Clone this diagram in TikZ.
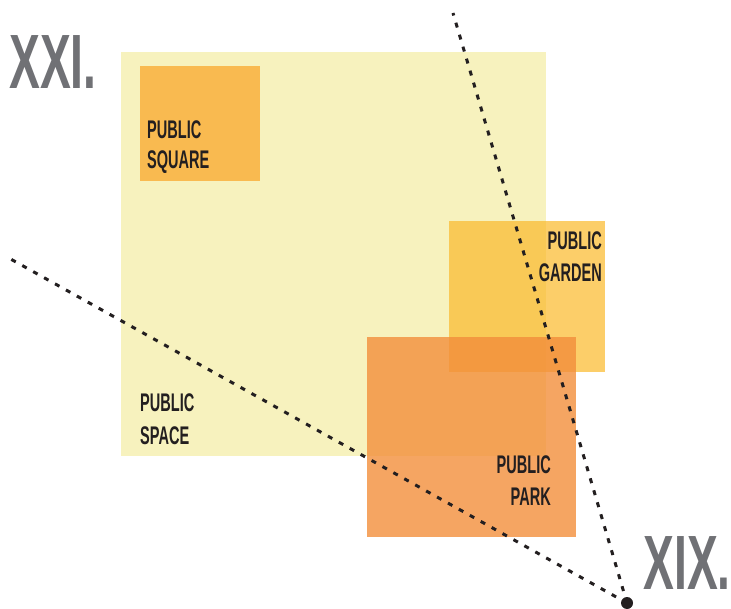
\documentclass[tikz,border=0pt]{standalone}
\usepackage{fontspec}
\setmainfont{Liberation Sans}
\definecolor{spacecol}{RGB}{247,242,190}
\definecolor{squarecol}{RGB}{249,186,80}
\definecolor{gardencol}{RGB}{251,185,42}
\definecolor{parkcol}{RGB}{242,142,59}
\definecolor{txtcol}{RGB}{35,31,32}
\definecolor{romancol}{RGB}{112,113,117}
\newcommand{\cond}[1]{\scalebox{0.57}[1]{#1}}
\newcommand{\bigcond}[1]{\scalebox{0.6}[1]{#1}}
\tikzset{
  area/.style={draw=none, inner sep=0pt, anchor=north west},
  lbl/.style={font=\fontsize{25.5}{32}\selectfont\bfseries, text=txtcol, inner sep=0pt, align=left},
  lblr/.style={font=\fontsize{25.5}{32}\selectfont\bfseries, text=txtcol, inner sep=0pt, align=right},
  roman/.style={font=\fontsize{77}{77}\selectfont\bfseries, text=romancol, inner sep=0pt},
  sight/.style={line width=3pt, dash pattern=on 5pt off 7.5pt, txtcol},
}
\begin{document}
\begin{tikzpicture}[x=1pt,y=-1pt]
\useasboundingbox (0,0) rectangle (731,609);
% areas
\node[area, fill=spacecol, minimum width=425pt, minimum height=404pt] (space) at (121,52) {};
\node[area, fill=squarecol, minimum width=120pt, minimum height=115pt] (square) at (140,66) {};
\node[area, fill=gardencol, fill opacity=0.7, minimum width=156pt, minimum height=151pt] (garden) at (449,221) {};
\node[area, fill=parkcol, fill opacity=0.8, minimum width=209pt, minimum height=200pt] (park) at (367,337) {};
% labels
\node[lbl, anchor=west] (tsquare1) at (147,130) {\cond{PUBLIC}};
\node[lbl, anchor=west] (tsquare2) at (147,162) {\cond{SQUARE}};
\node[lbl, anchor=west] (tspace1) at (140,403) {\cond{PUBLIC}};
\node[lbl, anchor=west] (tspace2) at (140,436) {\cond{SPACE}};
\node[lblr, anchor=east] (tgarden1) at (602,241) {\cond{PUBLIC}};
\node[lblr, anchor=east] (tgarden2) at (602,273) {\cond{GARDEN}};
\node[lblr, anchor=east] (tpark1) at (551,465) {\cond{PUBLIC}};
\node[lblr, anchor=east] (tpark2) at (551,497) {\cond{PARK}};
% era labels
\node[roman, anchor=west] (xxi) at (9,62) {\bigcond{XXI.}};
\node[roman, anchor=east] (xix) at (731,563) {\bigcond{XIX.}};
% sight lines
\coordinate (topend) at (453,13);
\coordinate (leftend) at (7,257);
\node[circle, fill=txtcol, inner sep=0pt, minimum size=12pt] (dot) at (627,603) {};
\draw[sight] (dot.center) -- (topend);
\draw[sight] (dot.center) -- (leftend);
\end{tikzpicture}
\end{document}
